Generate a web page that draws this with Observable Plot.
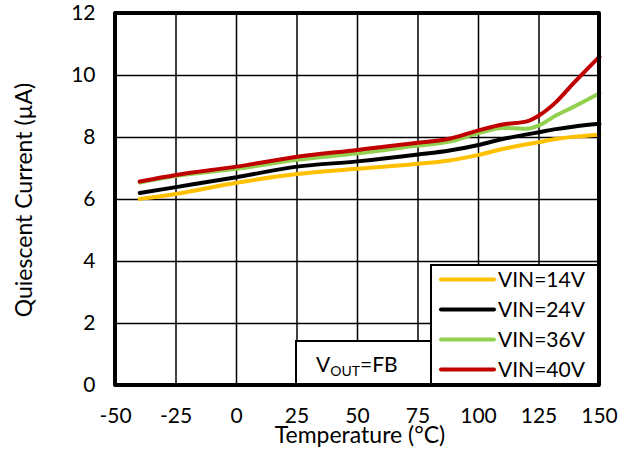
<!DOCTYPE html>
<html>
<head>
<meta charset="utf-8">
<script src="https://cdn.jsdelivr.net/npm/d3@7"></script>
<script src="https://cdn.jsdelivr.net/npm/@observablehq/plot@0.6"></script>
<style>
  html, body { margin: 0; padding: 0; background: #fff; }
  #chart { width: 628px; height: 449px; }
</style>
</head>
<body>
<div id="chart"></div>
<script>
// ---- data ----
const temps = [-40, -25, 0, 25, 50, 75, 88, 100, 110, 120, 125, 132, 139, 150];
const vin14 = [6.02, 6.18, 6.54, 6.82, 6.99, 7.15, 7.26, 7.44, 7.63, 7.78, 7.85, 7.95, 8.02, 8.09];
const vin24 = [6.21, 6.40, 6.72, 7.06, 7.23, 7.45, 7.58, 7.76, 7.95, 8.10, 8.17, 8.27, 8.35, 8.44];
const vin36 = [6.55, 6.76, 6.99, 7.28, 7.49, 7.74, 7.87, 8.14, 8.31, 8.28, 8.39, 8.71, 8.98, 9.43];
const vin40 = [6.58, 6.79, 7.06, 7.38, 7.60, 7.83, 7.96, 8.23, 8.42, 8.52, 8.71, 9.14, 9.73, 10.61];
const seriesNames = ["VIN=14V", "VIN=24V", "VIN=36V", "VIN=40V"];
const seriesValues = [vin14, vin24, vin36, vin40];
const seriesColors = ["#FFC000", "#000000", "#92D050", "#C00000"];
const xTicks = [-50, -25, 0, 25, 50, 75, 100, 125, 150];
const yTicks = [0, 2, 4, 6, 8, 10, 12];
const xTitle = "Temperature (°C)";
const yTitle = "Quiescent Current (µA)";

const rows = [];
seriesNames.forEach((name, i) => {
  temps.forEach((t, j) => rows.push({series: name, t, v: seriesValues[i][j]}));
});

const W = 628, H = 449;
const chart = Plot.plot({
  width: W,
  height: H,
  marginLeft: 115,
  marginRight: 29,
  marginTop: 13,
  marginBottom: 64,
  style: {fontFamily: "Lato, sans-serif", fontSize: "21px", color: "#000", background: "#fff"},
  x: {domain: [-50, 150], ticks: xTicks, label: null},
  y: {domain: [0, 12], ticks: yTicks, label: null},
  color: {domain: seriesNames, range: seriesColors},
  marks: [
    Plot.gridX(xTicks, {stroke: "#000", strokeOpacity: 1, strokeWidth: 1.5}),
    Plot.gridY(yTicks, {stroke: "#000", strokeOpacity: 1, strokeWidth: 1.5}),
    Plot.axisX(xTicks, {tickSize: 0, tickPadding: 23, fontSize: 21, tickFormat: d => String(d)}),
    Plot.axisY(yTicks, {tickSize: 0, tickPadding: 20, fontSize: 21, tickFormat: d => String(d)}),
    Plot.line(rows, {x: "t", y: "v", z: "series", stroke: "series", strokeWidth: 4, curve: "monotone-x"})
  ]
});
document.getElementById("chart").appendChild(chart);

const svg = d3.select(chart);
const xs = chart.scale("x").range;
const ys = chart.scale("y").range;
const fLeft = Math.min(...xs), fRight = Math.max(...xs);
const fTop = Math.min(...ys), fBottom = Math.max(...ys);

// V_OUT annotation box
const vg = svg.append("g").attr("font-family", "Lato, sans-serif").attr("fill", "#000").attr("text-anchor", "start");
vg.append("rect").attr("x", 296).attr("y", 341).attr("width", 135).attr("height", fBottom - 341)
  .attr("fill", "#fff").attr("stroke", "#000").attr("stroke-width", 2);
const vt = vg.append("text").attr("x", 316).attr("y", 372).attr("font-size", 21).attr("text-anchor", "start");
vt.append("tspan").text("V");
vt.append("tspan").attr("font-size", 14).attr("dy", 4).text("OUT");
vt.append("tspan").attr("dy", -4).text("=FB");

// Legend
const lg = svg.append("g").attr("font-family", "Lato, sans-serif").attr("text-anchor", "start");
lg.append("rect").attr("x", 431).attr("y", 265).attr("width", fRight - 431).attr("height", fBottom - 265)
  .attr("fill", "#fff").attr("stroke", "#000").attr("stroke-width", 2);
seriesNames.forEach((name, i) => {
  const y = 279.5 + i * 30;
  lg.append("line").attr("x1", 441).attr("x2", 494).attr("y1", y).attr("y2", y)
    .attr("stroke", seriesColors[i]).attr("stroke-width", 4).attr("stroke-linecap", "round");
  lg.append("text").attr("x", 498).attr("y", y).attr("dy", "0.36em").attr("font-size", 21)
    .attr("text-anchor", "start").attr("fill", "#000").text(name);
});

// Frame
svg.append("rect").attr("x", fLeft).attr("y", fTop).attr("width", fRight - fLeft).attr("height", fBottom - fTop)
  .attr("fill", "none").attr("stroke", "#000").attr("stroke-width", 4).attr("stroke-linejoin", "round");

// Axis titles
svg.append("text").attr("x", 360).attr("y", 443).attr("text-anchor", "middle")
  .attr("font-family", "Lato, sans-serif").attr("font-size", 23).attr("fill", "#000").text(xTitle);
svg.append("text").attr("transform", "translate(32,200) rotate(-90)").attr("text-anchor", "middle")
  .attr("font-family", "Lato, sans-serif").attr("font-size", 23).attr("fill", "#000").text(yTitle);
</script>
</body>
</html>
